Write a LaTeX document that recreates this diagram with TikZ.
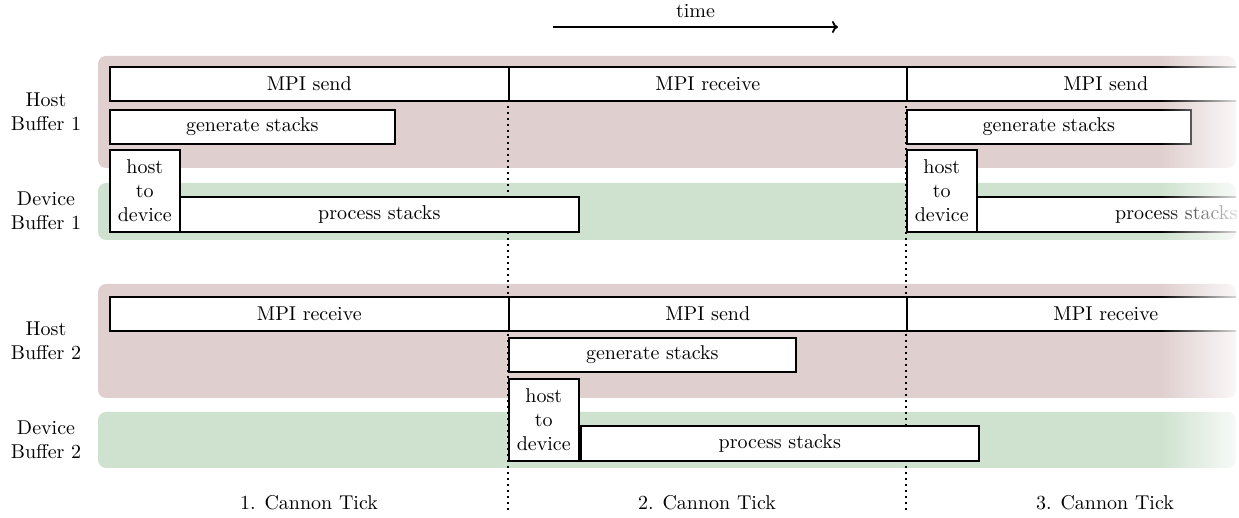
\documentclass[tikz,border=0pt]{standalone}
\usetikzlibrary{fadings,arrows.meta}
\definecolor{hostbg}{RGB}{224,207,207}
\definecolor{devbg}{RGB}{207,226,207}
\tikzfading[name=fade out right, left color=transparent!100, right color=transparent!0]
\tikzset{
  slot/.style={draw, fill=white, line width=0.8pt, anchor=north west, inner sep=0pt,
               minimum height=17pt},
  hostband/.style={fill=hostbg, rounded corners=4pt},
  devband/.style={fill=devbg, rounded corners=4pt},
  rowlabel/.style={align=center, inner sep=0pt},
  tickline/.style={line width=0.8pt, dash pattern=on 0.8pt off 2.2pt},
  h2d/.style={slot, minimum width=35pt, minimum height=41pt, align=center},
}
\begin{document}
\begin{tikzpicture}[x=0.5pt, y=-0.5pt]
  \useasboundingbox (0,0) rectangle (1239,518);

  % time axis
  \coordinate (t0) at (553,27);
  \coordinate (t1) at (838,27);
  \draw[line width=0.9pt, -{To[length=3pt,width=6pt]}] (t0) -- (t1)
    node[midway, above=1pt] (timelbl) {time};

  % background bands
  \fill[hostband] (98,56) rectangle (1236,168);
  \fill[devband]  (98,183) rectangle (1236,240);
  \fill[hostband] (98,284) rectangle (1236,398);
  \fill[devband]  (98,412) rectangle (1236,468);

  % row labels
  \node[rowlabel] (hb1) at (46,112) {Host\\Buffer 1};
  \node[rowlabel] (db1) at (46,211) {Device\\Buffer 1};
  \node[rowlabel] (hb2) at (46,341) {Host\\Buffer 2};
  \node[rowlabel] (db2) at (46,440) {Device\\Buffer 2};

  % tick separators
  \coordinate (sepAtop) at (508,100);
  \coordinate (sepAbot) at (508,512);
  \coordinate (sepBtop) at (906,100);
  \coordinate (sepBbot) at (906,512);
  \draw[tickline] (sepAtop) -- (sepAbot);
  \draw[tickline] (sepBtop) -- (sepBbot);

  \begin{scope}
    \clip (0,0) rectangle (1236,518);
    % buffer 1, host side
    \node[slot, minimum width=199.5pt] (b1send)  at (109,66) {MPI send};
    \node[slot, minimum width=199pt]   (b1recv)  at (508,66) {MPI receive};
    \node[slot, minimum width=199pt]   (b1send3) at (906,66) {MPI send};
    \node[slot, minimum width=142.5pt] (b1gen)   at (109,109) {generate stacks};
    \node[slot, minimum width=142pt]   (b1gen3)  at (906,109) {generate stacks};
    % buffer 1, device side
    \node[h2d] (b1h2d)  at (109,149) {host\\to\\device};
    \node[slot, minimum width=199.5pt, minimum height=17.5pt] (b1proc) at (179,196) {process stacks};
    \node[h2d] (b1h2d3) at (906,149) {host\\to\\device};
    \node[slot, minimum width=199.5pt, minimum height=17.5pt] (b1proc3) at (976,196) {process stacks};

    % buffer 2, host side
    \node[slot, minimum width=199.5pt] (b2recv)  at (109,296) {MPI receive};
    \node[slot, minimum width=199pt]   (b2send)  at (508,296) {MPI send};
    \node[slot, minimum width=199pt]   (b2recv3) at (906,296) {MPI receive};
    \node[slot, minimum width=143.5pt] (b2gen)   at (508,337) {generate stacks};
    % buffer 2, device side
    \node[h2d] (b2h2d) at (508,378) {host\\to\\device};
    \node[slot, minimum width=199pt, minimum height=17.5pt] (b2proc) at (580,425) {process stacks};
  \end{scope}

  % soft cut-off on the right
  \fill[white, path fading=fade out right] (1160,40) rectangle (1250,480);

  % tick captions
  \node (tick1) at (309,503) {1. Cannon Tick};
  \node (tick2) at (707,503) {2. Cannon Tick};
  \node (tick3) at (1105,503) {3. Cannon Tick};
\end{tikzpicture}
\end{document}
